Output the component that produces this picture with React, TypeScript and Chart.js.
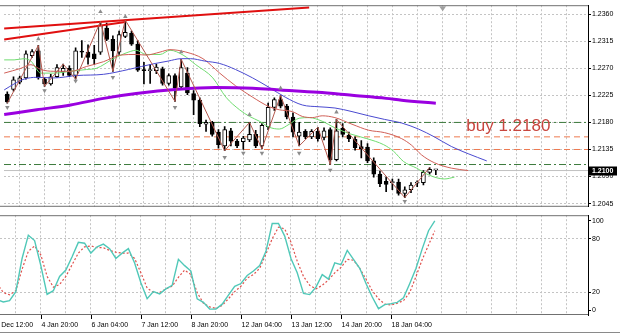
import React, { useEffect, useRef } from 'react';
import { Chart, registerables } from 'chart.js';

Chart.register(...registerables);

// ---------- data (EURUSD H4) ----------
const opens = [1.2227, 1.2235, 1.2247, 1.2254, 1.2291, 1.2299, 1.2252, 1.2244, 1.2256, 1.2264,
  1.2270, 1.2258, 1.2298, 1.2297, 1.2294, 1.2297, 1.2337, 1.2318, 1.2297, 1.2323,
  1.2328, 1.2310, 1.2268, 1.2266, 1.2266, 1.2269, 1.2245, 1.2258, 1.2239, 1.2262,
  1.2228, 1.2217, 1.2177, 1.2180, 1.2164, 1.2141, 1.2166, 1.2149, 1.2148, 1.2151,
  1.2160, 1.2141, 1.2173, 1.2205, 1.2218, 1.2207, 1.2189, 1.2157, 1.2165, 1.2156,
  1.2165, 1.2155, 1.2168, 1.2118, 1.2170, 1.2159, 1.2152, 1.2140, 1.2139, 1.2116,
  1.2094, 1.2082, 1.2080, 1.2081, 1.2062, 1.2068, 1.2079, 1.2080, 1.2097, 1.2101];
const highs = [1.2231, 1.2256, 1.2257, 1.2299, 1.2301, 1.2308, 1.2255, 1.2260, 1.2276, 1.2277,
  1.2274, 1.2304, 1.2316, 1.2309, 1.2308, 1.2348, 1.2345, 1.2324, 1.2332, 1.2350,
  1.2332, 1.2316, 1.2280, 1.2276, 1.2277, 1.2272, 1.2261, 1.2261, 1.2285, 1.2271,
  1.2233, 1.2221, 1.2184, 1.2182, 1.2168, 1.2173, 1.2170, 1.2152, 1.2157, 1.2180,
  1.2167, 1.2178, 1.2212, 1.2221, 1.2225, 1.2210, 1.2196, 1.2180, 1.2168, 1.2168,
  1.2172, 1.2171, 1.2171, 1.2185, 1.2178, 1.2164, 1.2156, 1.2150, 1.2145, 1.2121,
  1.2099, 1.2089, 1.2086, 1.2086, 1.2073, 1.2080, 1.2083, 1.2100, 1.2105, 1.2101];
const lows = [1.2212, 1.2232, 1.2244, 1.2252, 1.2288, 1.2252, 1.2240, 1.2242, 1.2255, 1.2258,
  1.2256, 1.2252, 1.2288, 1.2277, 1.2276, 1.2293, 1.2316, 1.2265, 1.2293, 1.2321,
  1.2308, 1.2265, 1.2244, 1.2245, 1.2261, 1.2242, 1.2242, 1.2215, 1.2236, 1.2226,
  1.2193, 1.2173, 1.2165, 1.2157, 1.2137, 1.2133, 1.2141, 1.2138, 1.2135, 1.2148,
  1.2138, 1.2136, 1.2168, 1.2200, 1.2204, 1.2186, 1.2156, 1.2141, 1.2153, 1.2153,
  1.2149, 1.2151, 1.2110, 1.2116, 1.2156, 1.2148, 1.2134, 1.2121, 1.2113, 1.2089,
  1.2073, 1.2065, 1.2068, 1.2059, 1.2055, 1.2063, 1.2073, 1.2076, 1.2094, 1.2093];
const closes = [1.2214, 1.2251, 1.2254, 1.2294, 1.2298, 1.2254, 1.2244, 1.2256, 1.2271, 1.2270,
  1.2258, 1.2299, 1.2297, 1.2288, 1.2286, 1.2342, 1.2318, 1.2299, 1.2326, 1.2330,
  1.2310, 1.2267, 1.2266, 1.2268, 1.2272, 1.2245, 1.2258, 1.2237, 1.2271, 1.2229,
  1.2217, 1.2178, 1.2180, 1.2160, 1.2143, 1.2168, 1.2149, 1.2141, 1.2154, 1.2160,
  1.2141, 1.2175, 1.2205, 1.2218, 1.2207, 1.2189, 1.2164, 1.2164, 1.2156, 1.2165,
  1.2153, 1.2166, 1.2118, 1.2166, 1.2160, 1.2153, 1.2138, 1.2136, 1.2116, 1.2094,
  1.2078, 1.2077, 1.2081, 1.2062, 1.2068, 1.2076, 1.2080, 1.2097, 1.2102, 1.2101];

// Moving averages (knots: bar index -> price)
const purpleBars = [-0.5, 4.75, 10.2, 15.5, 20.75, 27.5, 33.5, 39.5, 44, 50, 55.5, 61, 63.5, 69];
const purpleVals = [1.2193, 1.2201, 1.2209, 1.2220, 1.2228, 1.2235, 1.2238, 1.2237, 1.2234, 1.2230, 1.2225, 1.2220, 1.2217, 1.2212];

const jawBars = [-0.5, 1.1, 2.7, 4.75, 7.5, 11.2, 15.5, 19.5, 21.6, 23.8, 25.9, 28, 29.5, 31.8, 34.2, 36.75, 39.5, 42.2, 44.75, 47.5, 50.2, 52.75, 55.5, 58.2, 60.75, 63.5, 66.2, 68.75, 71.5, 74.2, 77.2];
const jawVals = [1.2234, 1.2244, 1.2252, 1.2255, 1.2254, 1.2258, 1.2260, 1.2268, 1.2273, 1.2278, 1.2282, 1.2286, 1.2286, 1.2282, 1.2278, 1.2268, 1.2254, 1.2238, 1.2222, 1.2209, 1.2206, 1.2204, 1.2198, 1.2191, 1.2185, 1.2179, 1.2169, 1.2156, 1.2140, 1.2128, 1.2116];

const teethBars = [-0.5, 2.2, 3.8, 5.4, 7.5, 10.2, 12.75, 15.5, 18.2, 20.75, 22.35, 24.6, 26.2, 28.75, 31.5, 34.2, 36.75, 39.5, 42.2, 43.8, 45.9, 47.5, 49.1, 50.7, 52.75, 55.5, 58.2, 60.75, 63.5, 65.1, 66.7, 68.75, 71.5, 74.2];
const teethVals = [1.2262, 1.2270, 1.2276, 1.2268, 1.2265, 1.2265, 1.2273, 1.2281, 1.2292, 1.2293, 1.2292, 1.2297, 1.2301, 1.2297, 1.2286, 1.2262, 1.2241, 1.2222, 1.2206, 1.2201, 1.2198, 1.2190, 1.2188, 1.2191, 1.2188, 1.2177, 1.2167, 1.2163, 1.2153, 1.2142, 1.2126, 1.2113, 1.2104, 1.2100];

const lipsBars = [-0.5, 1.1, 2.7, 3.8, 5.4, 7.5, 10.2, 12.75, 14.35, 17.1, 19.8, 20.75, 22.35, 24.6, 26.2, 28.3, 30.35, 33.1, 35.2, 37.4, 39, 40.6, 42.2, 43.8, 45.4, 47, 48.6, 50.7, 52.75, 55.2, 57.9, 60.6, 62.2, 63.8, 65.9, 68, 70.4, 72];
const lipsVals = [1.2284, 1.2284, 1.2286, 1.2282, 1.2262, 1.2262, 1.2265, 1.2268, 1.2270, 1.2286, 1.2298, 1.2300, 1.2293, 1.2293, 1.2300, 1.2292, 1.2276, 1.2254, 1.2222, 1.2201, 1.2190, 1.2182, 1.2172, 1.2169, 1.2177, 1.2187, 1.2188, 1.2182, 1.2171, 1.2161, 1.2153, 1.2143, 1.2132, 1.2115, 1.2104, 1.2092, 1.2086, 1.2089];

// Trend channel (red)
const chanUpperBars = [-0.5, 48.6];
const chanUpperVals = [1.2336, 1.2371];
const chanLowerBars = [-0.5, 19];
const chanLowerVals = [1.2318, 1.2347];

// ZigZag
const zigBars = [0, 5, 6, 9, 11, 15, 17, 19, 27, 28, 35, 39, 41, 44, 47, 50, 52, 53, 64, 68];
const zigVals = [1.2212, 1.2308, 1.2240, 1.2277, 1.2252, 1.2348, 1.2265, 1.2350, 1.2215, 1.2285, 1.2133, 1.2180, 1.2136, 1.2225, 1.2141, 1.2172, 1.2110, 1.2185, 1.2055, 1.2105];

// Fractals
const fracUpBars = [5, 15, 19, 28, 39, 44, 53];
const fracUpVals = [1.2319, 1.2364, 1.2356, 1.2297, 1.2193, 1.2237, 1.2197];
const fracDnBars = [0, 6, 11, 17, 27, 35, 38, 41, 47, 52, 64];
const fracDnVals = [1.2205, 1.2233, 1.2249, 1.2255, 1.2205, 1.2122, 1.2129, 1.2129, 1.2129, 1.2101, 1.2049];

// Horizontal levels
const greenLevels = [1.2180, 1.2110];
const orangeLevels = [1.2156, 1.2135];
const bidPrice = [1.2100];
const buyText = ['buy 1.2180'];
const buyTextBar = [73.9];
const buyTextPrice = [1.2188];
const shiftMarkerBar = [70.1];

// Stochastic (per bar, starting at bar -1)
const stochStart = -1;
const stochMain = [12, 9.5, 11, 21, 58, 84, 78, 50, 18, 22, 38, 45, 60, 76, 75, 64, 71, 74, 69, 58, 64, 69, 53, 31, 13, 21, 18.5, 24, 28, 57, 50, 44, 13, 9, 1.5, 1.5, 7, 17, 27, 30, 39, 44, 50, 66, 97, 97, 83, 58, 42, 19, 17.7, 26, 40, 35, 53, 51, 67, 57, 47, 30, 15, 2, 6.5, 7.6, 9, 14, 30, 47, 69, 89, 100];
const stochSignal = [30, 20, 17.4, 22, 46, 66, 72, 62, 38, 26, 29, 38, 51, 64, 71, 72, 70, 70, 67, 65, 64, 64, 58, 42, 25, 20, 20, 24, 27, 37, 45, 40, 20, 8, 4, 2.2, 5.5, 13, 21, 27, 36, 40, 47, 63, 80, 93, 91, 76, 55, 38, 28, 24, 28, 34, 42, 48, 57, 56, 47, 35, 22, 13, 7, 6, 8, 11, 20, 38, 57, 73, 89];

// Axes
const priceTicks = [1.2045, 1.2090, 1.2135, 1.2180, 1.2225, 1.2270, 1.2315, 1.2360];
const stochTicks = [0, 20, 80, 100];
const stochLevels = [20, 80];
const gridBars = [2, 6, 10, 14, 18, 22, 26, 30, 34, 38, 42, 46, 50, 54, 58, 62, 66, 70, 74, 78, 82, 86, 90];
const xLabelBars = [-2, 6, 14, 22, 30, 38, 46, 54, 62];
const xLabels = ['31 Dec 12:00', '4 Jan 20:00', '6 Jan 04:00', '7 Jan 12:00', '8 Jan 20:00', '12 Jan 04:00', '13 Jan 12:00', '14 Jan 20:00', '18 Jan 04:00'];

// ---------- view ----------
const X_MIN = -0.53;
const X_MAX = 93.5;
const P_MIN = 1.20397;
const P_MAX = 1.237492;
const S_MIN = -5.108;
const S_MAX = 106.305;
const FONT = 'Liberation Sans';
const GRID = '#c4c4c4';

const pts = (bars: number[], vals: number[]) => bars.map((b, k) => ({ x: b, y: vals[k] }));

const lineDs = (data: any[], color: string, width: number, order: number, smooth = true) => ({
  type: 'line',
  data,
  borderColor: color,
  borderWidth: width,
  pointRadius: 0,
  cubicInterpolationMode: smooth ? 'monotone' : 'default',
  tension: 0,
  order,
});

export default function App() {
  const mainRef = useRef<HTMLCanvasElement>(null);
  const subRef = useRef<HTMLCanvasElement>(null);

  useEffect(() => {
    const bodyData = opens.map((o, k) => ({ x: k, y: [o, closes[k]] }));
    const wickData = opens.map((_, k) => ({ x: k, y: [lows[k], highs[k]] }));
    const bodyFill = opens.map((o, k) => (closes[k] >= o ? '#ffffff' : '#000000'));

    const levelDs: any[] = [];
    greenLevels.forEach((lv) =>
      levelDs.push({
        ...lineDs([{ x: X_MIN, y: lv }, { x: X_MAX, y: lv }], '#3c7a3c', 1, 8, false),
        borderDash: [7, 3, 2, 3],
      })
    );
    orangeLevels.forEach((lv) =>
      levelDs.push({
        ...lineDs([{ x: X_MIN, y: lv }, { x: X_MAX, y: lv }], '#ee7a50', 1, 8, false),
        borderDash: [6, 4],
      })
    );
    levelDs.push(lineDs([{ x: X_MIN, y: bidPrice[0] }, { x: X_MAX, y: bidPrice[0] }], '#c0c0c0', 1, 9, false));

    const mainDecor = {
      id: 'mainDecor',
      afterDraw(chart: any) {
        const { ctx, chartArea, scales } = chart;
        const x = scales.x;
        const y = scales.y;
        ctx.save();
        ctx.strokeStyle = '#707070';
        ctx.lineWidth = 1;
        ctx.beginPath();
        ctx.moveTo(0, chartArea.top + 0.5);
        ctx.lineTo(chartArea.right, chartArea.top + 0.5);
        ctx.moveTo(0, chartArea.bottom - 0.5);
        ctx.lineTo(chartArea.right, chartArea.bottom - 0.5);
        ctx.stroke();
        const sx = x.getPixelForValue(shiftMarkerBar[0]);
        ctx.fillStyle = '#a0a0a0';
        ctx.beginPath();
        ctx.moveTo(sx - 3.5, chartArea.top + 1);
        ctx.lineTo(sx + 3.5, chartArea.top + 1);
        ctx.lineTo(sx, chartArea.top + 6);
        ctx.closePath();
        ctx.fill();
        ctx.fillStyle = '#c8463e';
        ctx.font = `17px "${FONT}"`;
        ctx.textBaseline = 'top';
        ctx.textAlign = 'left';
        ctx.fillText(buyText[0], x.getPixelForValue(buyTextBar[0]), y.getPixelForValue(buyTextPrice[0]));
        const by = y.getPixelForValue(bidPrice[0]);
        ctx.fillStyle = '#000';
        ctx.fillRect(chartArea.right + 1, Math.round(by) - 4.5, 28, 9);
        ctx.fillStyle = '#fff';
        ctx.font = `bold 7px "${FONT}"`;
        ctx.textBaseline = 'middle';
        ctx.fillText(bidPrice[0].toFixed(4), chartArea.right + 4, Math.round(by));
        ctx.restore();
      },
    };

    const main = new Chart(mainRef.current as HTMLCanvasElement, {
      type: 'bar',
      data: {
        datasets: [
          {
            type: 'line', data: pts(fracUpBars, fracUpVals), showLine: false, pointStyle: 'triangle',
            pointRadius: 2.6, pointBackgroundColor: '#8c8c8c', pointBorderWidth: 0, order: 0,
          },
          {
            type: 'line', data: pts(fracDnBars, fracDnVals), showLine: false, pointStyle: 'triangle',
            pointRotation: 180, pointRadius: 2.6, pointBackgroundColor: '#8c8c8c', pointBorderWidth: 0, order: 0,
          },
          lineDs(pts(zigBars, zigVals), '#b4584e', 1, 1, false),
          lineDs(pts(chanUpperBars, chanUpperVals), '#e01010', 2, 2, false),
          lineDs(pts(chanLowerBars, chanLowerVals), '#e01010', 2, 2, false),
          lineDs(pts(purpleBars, purpleVals), '#9a00e0', 3, 3),
          lineDs(pts(jawBars, jawVals), '#4a4ad0', 1, 3),
          lineDs(pts(teethBars, teethVals), '#d06058', 1, 3),
          lineDs(pts(lipsBars, lipsVals), '#70dc70', 1, 3),
          {
            type: 'bar', data: bodyData, backgroundColor: bodyFill, borderColor: '#000', borderWidth: 1,
            borderSkipped: false, barThickness: 4, minBarLength: 1, grouped: false, order: 5,
          },
          {
            type: 'bar', data: wickData, backgroundColor: '#000', borderWidth: 0, barThickness: 1,
            grouped: false, order: 6,
          },
          ...levelDs,
        ] as any,
      },
      options: {
        animation: false,
        responsive: false,
        maintainAspectRatio: false,
        devicePixelRatio: 1,
        events: [],
        layout: { padding: { top: 1, bottom: 2, left: 0, right: 0 } },
        plugins: { legend: { display: false }, tooltip: { enabled: false } },
        scales: {
          x: {
            type: 'linear', min: X_MIN, max: X_MAX, offset: false,
            afterBuildTicks: (s: any) => { s.ticks = gridBars.map((v) => ({ value: v })); },
            afterFit: (s: any) => { s.height = 0; },
            ticks: { display: false },
            grid: { color: GRID, drawTicks: false, offset: false },
            border: { display: false, dash: [2, 2] },
          },
          y: {
            position: 'right', min: P_MIN, max: P_MAX,
            afterBuildTicks: (s: any) => { s.ticks = priceTicks.map((v) => ({ value: v })); },
            afterFit: (s: any) => { s.width = 32; },
            ticks: {
              font: { family: FONT, size: 7 }, color: '#000', padding: 1,
              callback: (v: any) => Number(v).toFixed(4),
            },
            grid: { color: GRID, tickLength: 3, tickColor: '#000', tickBorderDash: [] },
            border: { display: true, color: '#000', dash: [2, 2] },
          },
        },
      } as any,
      plugins: [mainDecor],
    });

    const subDecor = {
      id: 'subDecor',
      afterDraw(chart: any) {
        const { ctx, chartArea, scales } = chart;
        const x = scales.x;
        ctx.save();
        ctx.strokeStyle = '#707070';
        ctx.lineWidth = 1;
        ctx.beginPath();
        ctx.moveTo(0, chartArea.top + 0.5);
        ctx.lineTo(chartArea.right, chartArea.top + 0.5);
        ctx.moveTo(0, chartArea.bottom - 0.5);
        ctx.lineTo(chartArea.right, chartArea.bottom - 0.5);
        ctx.stroke();
        ctx.strokeStyle = '#8a8a8a';
        ctx.beginPath();
        ctx.moveTo(0, chart.height - 2.5);
        ctx.lineTo(chart.width, chart.height - 2.5);
        ctx.stroke();
        // time labels and tick marks
        ctx.fillStyle = '#000';
        ctx.strokeStyle = '#000';
        ctx.font = `7px "${FONT}"`;
        ctx.textAlign = 'left';
        ctx.textBaseline = 'middle';
        xLabelBars.forEach((b, k) => {
          const px = Math.round(x.getPixelForValue(b)) + 0.5;
          ctx.beginPath();
          ctx.moveTo(px, chartArea.bottom);
          ctx.lineTo(px, chartArea.bottom + 4);
          ctx.stroke();
          ctx.fillText(xLabels[k], px, chartArea.bottom + 10);
        });
        ctx.restore();
      },
    };

    const sub = new Chart(subRef.current as HTMLCanvasElement, {
      type: 'line',
      data: {
        datasets: [
          {
            ...lineDs(stochMain.map((v, k) => ({ x: k + stochStart, y: v })), '#50c8b8', 1.4, 0, false),
          },
          {
            ...lineDs(stochSignal.map((v, k) => ({ x: k + stochStart, y: v })), '#e0504c', 1.2, 1, false),
            borderDash: [2, 2],
          },
        ] as any,
      },
      options: {
        animation: false,
        responsive: false,
        maintainAspectRatio: false,
        devicePixelRatio: 1,
        events: [],
        layout: { padding: { top: 2.5, bottom: 0, left: 0, right: 0 } },
        plugins: { legend: { display: false }, tooltip: { enabled: false } },
        scales: {
          x: {
            type: 'linear', min: X_MIN, max: X_MAX, offset: false,
            afterBuildTicks: (s: any) => { s.ticks = gridBars.map((v) => ({ value: v })); },
            afterFit: (s: any) => { s.height = 20; },
            ticks: { display: false },
            grid: { color: GRID, drawTicks: false, offset: false },
            border: { display: false, dash: [2, 2] },
          },
          y: {
            position: 'right', min: S_MIN, max: S_MAX,
            afterBuildTicks: (s: any) => { s.ticks = stochTicks.map((v) => ({ value: v })); },
            afterFit: (s: any) => { s.width = 32; },
            ticks: { font: { family: FONT, size: 7 }, color: '#000', padding: 1 },
            grid: {
              color: (c: any) => (c.tick && stochLevels.includes(c.tick.value) ? GRID : 'rgba(0,0,0,0)'),
              tickLength: 3, tickColor: '#000', tickBorderDash: [],
            },
            border: { display: true, color: '#000', dash: [2, 2] },
          },
        },
      } as any,
      plugins: [subDecor],
    });

    return () => {
      main.destroy();
      sub.destroy();
    };
  }, []);

  return (
    <div style={{ position: 'fixed', left: 0, top: 0, width: 620, height: 335, background: '#fff', overflow: 'hidden' }}>
      <canvas ref={mainRef} width={620} height={212} style={{ position: 'absolute', left: 0, top: 0, width: 620, height: 212 }} />
      <canvas ref={subRef} width={620} height={125} style={{ position: 'absolute', left: 0, top: 210, width: 620, height: 125 }} />
    </div>
  );
}
